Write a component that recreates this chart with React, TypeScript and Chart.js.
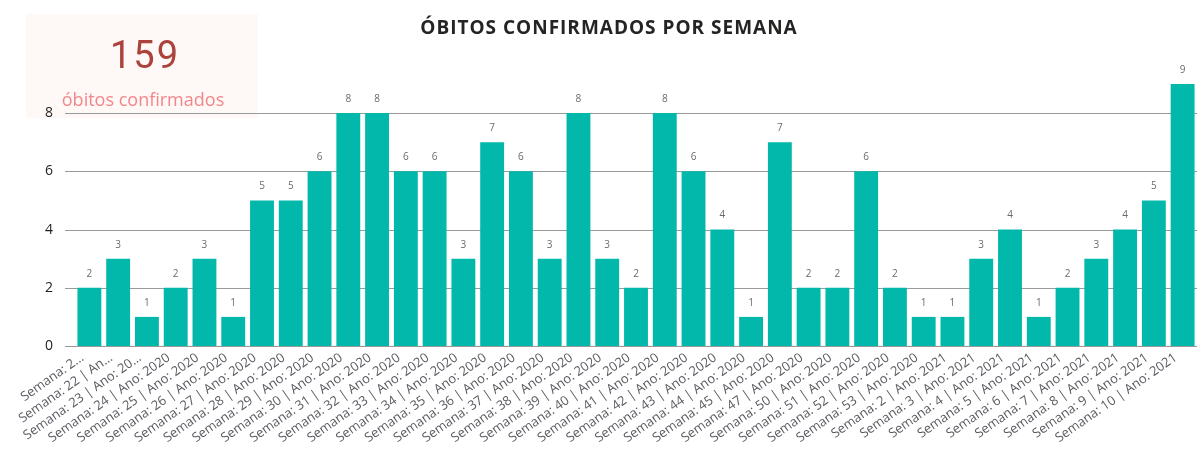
import React, { useEffect, useRef } from "react";
import { Chart, registerables } from "chart.js";

Chart.register(...registerables);

const weekLabels: string[] = [
  "Semana: 2...",
  "Semana: 22 | An...",
  "Semana: 23 | Ano: 20...",
  "Semana: 24 | Ano: 2020",
  "Semana: 25 | Ano: 2020",
  "Semana: 26 | Ano: 2020",
  "Semana: 27 | Ano: 2020",
  "Semana: 28 | Ano: 2020",
  "Semana: 29 | Ano: 2020",
  "Semana: 30 | Ano: 2020",
  "Semana: 31 | Ano: 2020",
  "Semana: 32 | Ano: 2020",
  "Semana: 33 | Ano: 2020",
  "Semana: 34 | Ano: 2020",
  "Semana: 35 | Ano: 2020",
  "Semana: 36 | Ano: 2020",
  "Semana: 37 | Ano: 2020",
  "Semana: 38 | Ano: 2020",
  "Semana: 39 | Ano: 2020",
  "Semana: 40 | Ano: 2020",
  "Semana: 41 | Ano: 2020",
  "Semana: 42 | Ano: 2020",
  "Semana: 43 | Ano: 2020",
  "Semana: 44 | Ano: 2020",
  "Semana: 45 | Ano: 2020",
  "Semana: 47 | Ano: 2020",
  "Semana: 50 | Ano: 2020",
  "Semana: 51 | Ano: 2020",
  "Semana: 52 | Ano: 2020",
  "Semana: 53 | Ano: 2020",
  "Semana: 2 | Ano: 2021",
  "Semana: 3 | Ano: 2021",
  "Semana: 4 | Ano: 2021",
  "Semana: 5 | Ano: 2021",
  "Semana: 6 | Ano: 2021",
  "Semana: 7 | Ano: 2021",
  "Semana: 8 | Ano: 2021",
  "Semana: 9 | Ano: 2021",
  "Semana: 10 | Ano: 2021",
];

const deaths: number[] = [
  2, 3, 1, 2, 3, 1, 5, 5, 6, 8, 8, 6, 6, 3, 7, 6, 3, 8, 3, 2, 8, 6, 4, 1, 7,
  2, 2, 6, 2, 1, 1, 3, 4, 1, 2, 3, 4, 5, 9,
];

const yTicks: number[] = [0, 2, 4, 6, 8];

const chartTitle = "ÓBITOS CONFIRMADOS POR SEMANA";
const cardValue = "159";
const cardLabel = "óbitos confirmados";

const FONT = "'Open Sans', 'Noto Sans', sans-serif";

export default function App() {
  const canvasRef = useRef<HTMLCanvasElement | null>(null);

  useEffect(() => {
    const canvas = canvasRef.current;
    if (!canvas) return;

    const decorPlugin = {
      id: "decor",
      beforeDraw(chart: any) {
        const ctx = chart.ctx;
        ctx.save();
        ctx.fillStyle = "#fef8f6";
        ctx.fillRect(26, 14, 232, 104);
        ctx.restore();
      },
      beforeDatasetsDraw(chart: any) {
        const ctx = chart.ctx;
        const ys = chart.scales.y;
        ctx.save();
        ctx.strokeStyle = "#9a9a9a";
        ctx.lineWidth = 1;
        yTicks.forEach((v) => {
          const y = Math.round(ys.getPixelForValue(v)) + 0.5;
          ctx.beginPath();
          ctx.moveTo(65, y);
          ctx.lineTo(chart.chartArea.right, y);
          ctx.stroke();
        });
        ctx.restore();
      },
      afterDatasetsDraw(chart: any) {
        const ctx = chart.ctx;
        const meta = chart.getDatasetMeta(0);
        ctx.save();
        ctx.font = `10px ${FONT}`;
        ctx.fillStyle = "#6b6b6b";
        ctx.textAlign = "center";
        ctx.textBaseline = "middle";
        meta.data.forEach((bar: any, i: number) => {
          ctx.fillText(String(deaths[i]), bar.x, bar.y - 14);
        });
        ctx.restore();
      },
      afterDraw(chart: any) {
        const ctx = chart.ctx;
        ctx.save();
        ctx.textAlign = "center";
        ctx.textBaseline = "middle";
        ctx.fillStyle = "#252423";
        ctx.font = `bold 19px ${FONT}`;
        try {
          (ctx as any).letterSpacing = "1px";
        } catch (e) {}
        ctx.fillText(chartTitle, 609, 29);
        try {
          (ctx as any).letterSpacing = "2px";
        } catch (e) {}
        ctx.fillStyle = "#ab423c";
        ctx.font = `38px Roboto, ${FONT}`;
        ctx.fillText(cardValue, 145, 58);
        try {
          (ctx as any).letterSpacing = "0px";
        } catch (e) {}
        ctx.fillStyle = "#f4868a";
        ctx.font = `18px ${FONT}`;
        ctx.fillText(cardLabel, 143, 101);
        ctx.restore();
      },
    };

    const chart = new Chart(canvas, {
      type: "bar",
      data: {
        labels: weekLabels,
        datasets: [
          {
            data: deaths,
            backgroundColor: "#01b8aa",
            borderWidth: 0,
            categoryPercentage: 1,
            barPercentage: 0.83,
          },
        ],
      },
      options: {
        responsive: false,
        animation: false,
        devicePixelRatio: 1,
        layout: { padding: { top: 84, left: 0, right: 0, bottom: 0 } },
        plugins: {
          legend: { display: false },
          title: { display: false },
          tooltip: { enabled: false },
        },
        scales: {
          x: {
            grid: { display: false, drawTicks: false },
            border: { display: false },
            ticks: {
              autoSkip: false,
              maxRotation: 35,
              minRotation: 35,
              padding: 4,
              labelOffset: -7,
              color: "#5a5a62",
              font: { family: FONT, size: 13 },
            },
            afterFit(scale: any) {
              scale.height = 105;
            },
          },
          y: {
            min: 0,
            max: 9,
            grid: { display: false, drawTicks: false },
            border: { display: false },
            ticks: {
              padding: 22,
              color: "#252423",
              font: { family: FONT, size: 14 },
            },
            afterBuildTicks(scale: any) {
              scale.ticks = yTicks.map((v) => ({ value: v }));
            },
            afterFit(scale: any) {
              scale.width = 75;
            },
          },
        },
      },
      plugins: [decorPlugin],
    });

    return () => {
      chart.destroy();
    };
  }, []);

  return (
    <div
      style={{
        position: "absolute",
        left: 0,
        top: 0,
        width: 1197,
        height: 451,
        overflow: "hidden",
        background: "#ffffff",
      }}
    >
      <canvas ref={canvasRef} width={1197} height={451} />
    </div>
  );
}
